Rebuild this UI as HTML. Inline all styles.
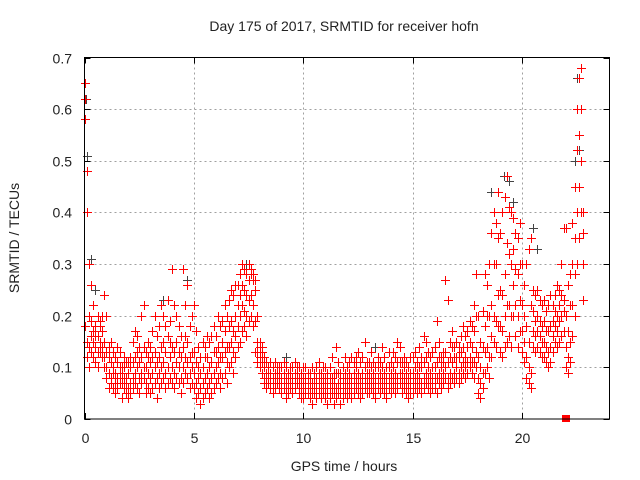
<!DOCTYPE html>
<html><head><meta charset="utf-8"><style>
html,body{margin:0;padding:0;background:#fff;}
svg{display:block;font-family:"Liberation Sans",sans-serif;}
</style></head><body>
<svg id="chart" width="640" height="480" viewBox="0 0 640 480" xmlns="http://www.w3.org/2000/svg">
<rect width="640" height="480" fill="#fff"/>
<text x="344" y="31" font-size="14" text-anchor="middle" fill="#222">Day 175 of 2017, SRMTID for receiver hofn</text>
<text transform="translate(19,238) rotate(-90)" font-size="14" text-anchor="middle" fill="#222">SRMTID / TECUs</text>
<text x="344" y="471" font-size="14" text-anchor="middle" fill="#222">GPS time / hours</text>
<g id="grid"></g>
<g id="ticks"></g>
<g id="gray" fill="#444" shape-rendering="crispEdges"></g>
<g id="red" fill="#ff0000" shape-rendering="crispEdges"></g>
<rect x="84.5" y="57.5" width="525" height="361.5" fill="none" stroke="#000" stroke-width="1"/>
</svg>
<script>
const xTicks=[0,5,10,15,20];
const yTicks=[0,0.1,0.2,0.3,0.4,0.5,0.6,0.7];
const yTickLabels=["0","0.1","0.2","0.3","0.4","0.5","0.6","0.7"];
const tStart=0, tStep=0.1;
const v1=[.18,.12,.1,.13,.12,.11,.1,.13,.12,.1,
.08,.06,.07,.06,.05,.06,.07,.04,.06,.05,
.04,.05,.06,.07,.06,.05,.07,.08,.05,.06,
.05,.06,.07,.04,.06,.07,.08,.06,.07,.08,
.07,.06,.08,.07,.05,.07,.09,.08,.06,.07,
.06,.04,.05,.03,.04,.05,.06,.04,.05,.06,
.07,.08,.06,.08,.09,.07,.1,.11,.09,.12,
.14,.15,.17,.18,.16,.19,.2,.18,.13,.11,
.1,.09,.07,.06,.07,.06,.05,.06,.07,.06,
.05,.06,.04,.05,.06,.05,.06,.07,.05,.04,
.04,.05,.05,.04,.03,.05,.04,.05,.04,.05,
.04,.03,.04,.05,.03,.04,.05,.03,.04,.05,
.04,.05,.04,.05,.06,.05,.04,.05,.06,.05,
.05,.06,.05,.04,.06,.05,.06,.05,.04,.06,
.05,.06,.05,.06,.07,.05,.06,.05,.04,.05,
.05,.06,.05,.06,.05,.06,.07,.06,.05,.06,
.06,.05,.07,.06,.07,.08,.06,.07,.08,.07,
.08,.07,.08,.09,.08,.09,.1,.09,.08,.1,
.05,.04,.06,.09,.1,.08,.12,.15,.14,.18,
.13,.12,.14,.15,.16,.14,.2,.16,.14,.17,
.13,.11,.08,.07,.06,.14,.13,.14,.13,.12,
.12,.11,.1,.11,.13,.15,.14,.15,.16,.17,
.1,.09,.11,.16,.2,.3,.35,.4,.23];
const v2=[.65,.15,.14,.16,.15,.14,.13,.15,.14,.12,
.1,.09,.08,.09,.07,.08,.09,.07,.08,.06,
.06,.07,.08,.09,.1,.08,.09,.1,.07,.09,
.08,.09,.1,.08,.09,.1,.11,.09,.1,.12,
.1,.09,.11,.1,.08,.1,.12,.11,.09,.1,
.09,.07,.08,.06,.07,.08,.09,.07,.08,.09,
.1,.11,.09,.12,.13,.11,.14,.15,.13,.16,
.18,.2,.22,.21,.2,.23,.24,.22,.19,.13,
.12,.11,.08,.08,.08,.07,.07,.08,.08,.07,
.07,.07,.06,.07,.07,.06,.08,.08,.07,.06,
.06,.07,.06,.06,.05,.06,.06,.07,.06,.06,
.06,.05,.06,.06,.05,.06,.07,.05,.06,.07,
.06,.07,.06,.07,.08,.07,.06,.07,.08,.07,
.07,.08,.07,.06,.08,.07,.08,.07,.06,.08,
.07,.08,.07,.08,.09,.07,.08,.07,.06,.07,
.07,.08,.07,.08,.07,.08,.09,.08,.07,.08,
.08,.08,.09,.08,.09,.1,.08,.09,.11,.09,
.1,.09,.1,.11,.1,.11,.12,.11,.11,.13,
.08,.07,.09,.13,.14,.12,.16,.2,.19,.24,
.18,.17,.2,.22,.22,.2,.26,.22,.2,.23,
.17,.15,.12,.1,.09,.17,.16,.17,.16,.15,
.15,.14,.13,.14,.16,.18,.17,.19,.2,.21,
.14,.12,.15,.22,.28,.4,.45,.5,.3];
const v3=[.62,.48,.2,.19,.17,.18,.16,.18,.17,.15,
.13,.12,.11,.1,.09,.11,.1,.09,.1,.08,
.09,.1,.11,.12,.13,.11,.12,.14,.1,.12,
.11,.12,.13,.11,.12,.14,.15,.13,.16,.15,
.14,.13,.15,.13,.12,.14,.16,.15,.12,.13,
.13,.11,.1,.09,.1,.12,.12,.1,.11,.13,
.13,.14,.12,.15,.17,.14,.18,.19,.17,.2,
.22,.24,.26,.25,.24,.27,.28,.27,.25,.15,
.14,.13,.1,.09,.09,.09,.08,.09,.09,.09,
.08,.09,.08,.08,.09,.08,.09,.09,.08,.08,
.08,.08,.08,.07,.07,.08,.08,.09,.07,.08,
.08,.07,.08,.08,.07,.09,.09,.07,.08,.09,
.08,.09,.08,.09,.1,.09,.08,.09,.1,.09,
.09,.1,.09,.08,.1,.09,.1,.09,.08,.1,
.09,.1,.09,.11,.11,.09,.1,.09,.08,.09,
.09,.1,.09,.1,.1,.11,.12,.1,.09,.1,
.1,.11,.12,.1,.11,.13,.11,.12,.14,.12,
.12,.12,.13,.14,.12,.14,.15,.14,.17,.2,
.12,.1,.14,.18,.2,.2,.22,.3,.3,.35,
.25,.24,.28,.34,.32,.3,.33,.29,.28,.3,
.22,.2,.18,.15,.22,.21,.19,.2,.19,.18,
.19,.17,.17,.18,.19,.21,.2,.22,.24,.23,
.2,.17,.22,.3,.35,.52,.55,.6,.4];
const v4=[.58,.4,.3,.26,.22,.16,.2,.19,.2,.24,
.2,.14,.15,.13,.12,.14,.13,.1,.12,.11,
.11,.12,.15,.17,.16,.14,.2,.22,.13,.15,
.14,.17,.2,.16,.18,.22,.2,.18,.23,.19,
.29,.22,.2,.18,.16,.29,.22,.26,.18,.2,
.22,.17,.14,.12,.15,.14,.16,.15,.16,.18,
.16,.2,.18,.19,.22,.2,.23,.25,.24,.26,
.26,.28,.3,.29,.28,.3,.29,.28,.27,.2,
.15,.14,.12,.11,.1,.11,.1,.11,.1,.1,
.1,.11,.1,.09,.1,.1,.11,.1,.1,.09,
.1,.1,.09,.09,.1,.09,.1,.11,.09,.1,
.1,.09,.1,.12,.09,.14,.11,.09,.1,.12,
.1,.11,.12,.11,.12,.13,.11,.12,.15,.11,
.11,.13,.11,.1,.12,.11,.14,.12,.1,.13,
.11,.13,.12,.15,.14,.11,.12,.11,.1,.12,
.12,.13,.11,.14,.12,.16,.15,.13,.12,.13,
.14,.19,.15,.12,.13,.27,.23,.15,.17,.14,
.15,.14,.16,.18,.16,.17,.19,.18,.22,.28,
.2,.15,.21,.28,.26,.3,.36,.4,.38,.44,
.36,.4,.43,.47,.41,.4,.39,.36,.35,.38,
.3,.26,.3,.33,.35,.25,.24,.25,.23,.22,
.23,.21,.22,.24,.22,.24,.26,.25,.3,.37,
.37,.26,.28,.38,.45,.6,.66,.68,.36];
const grayTimes=[0.05,0.1,0.3,0.5,3.6,4.7,7.4,7.6,9.2,11.5,13.3,18.6,19.2,19.4,19.6,20.5,20.7,22.4,22.5,22.6];
const grayValues=[0.62,0.51,0.31,0.25,0.23,0.27,0.3,0.29,0.12,0.14,0.14,0.44,0.47,0.46,0.42,0.37,0.33,0.5,0.66,0.52];
const markerTime=[22];
const markerValue=[0];

const X0=84.5,X1=609.5,Y0=419,Y1=57.5;
const xs=t=>X0+(t-0)/(24-0)*(X1-X0);
const ys=v=>Y0-(v-0)/(0.7-0)*(Y0-Y1);
const NS="http://www.w3.org/2000/svg";
function mk(tag,parent){const e=document.createElementNS(NS,tag);parent.appendChild(e);return e;}
const grid=document.getElementById('grid'),ticks=document.getElementById('ticks');
yTicks.forEach((v,i)=>{
  const y=Math.round(ys(v))+0.5;
  if(i>0&&i<yTicks.length-1){const g=mk('line',grid);
    
    
    g.setAttribute('x1',X0);g.setAttribute('x2',X1);g.setAttribute('y1',y);g.setAttribute('y2',y);
    g.setAttribute('stroke','#a0a0a0');g.setAttribute('stroke-dasharray','2,3');}
  const tk=mk('path',ticks);
  
  
  tk.setAttribute('d',`M${X0},${y}h6M${X1},${y}h-6`);tk.setAttribute('stroke','#000');
  const tl=mk('text',ticks);
  
  
  tl.setAttribute('x',72);tl.setAttribute('y',y+5);tl.setAttribute('text-anchor','end');tl.setAttribute('font-size','14');tl.setAttribute('fill','#222');
  tl.textContent=yTickLabels[i];
});
xTicks.forEach(t=>{
  const x=Math.round(xs(t))+0.5;
  if(t>0){const g=mk('line',grid);
    
    
    g.setAttribute('x1',x);g.setAttribute('x2',x);g.setAttribute('y1',Y1);g.setAttribute('y2',Y0);
    g.setAttribute('stroke','#a0a0a0');g.setAttribute('stroke-dasharray','2,3');}
  const tk=mk('path',ticks);
  
  
  tk.setAttribute('d',`M${x},${Y0}v-6M${x},${Y1}v6`);tk.setAttribute('stroke','#000');
  const tl=mk('text',ticks);
  
  
  tl.setAttribute('x',x);tl.setAttribute('y',443);tl.setAttribute('text-anchor','middle');tl.setAttribute('font-size','14');tl.setAttribute('fill','#222');
  tl.textContent=String(t);
});
// plus marker as filled rectangles path (crisp, solid colour)
function plus(t,v){const x=Math.round(xs(t)),y=Math.round(ys(v));
  return `M${x-4},${y}h9v1h-9zM${x},${y-4}h1v9h-1z`;}
let gd='';grayTimes.forEach((t,i)=>{gd+=plus(t,grayValues[i]);});
const gp=mk('path',document.getElementById('gray'));


gp.setAttribute('d',gd);gp.setAttribute('fill','#444');gp.setAttribute('fill-rule','nonzero');
const redG=document.getElementById('red');
[v1,v2,v3,v4].forEach(arr=>{
  let rd='';
  arr.forEach((v,i)=>{rd+=plus(tStart+i*tStep,v);});
  const rp=mk('path',redG);
  
  
  rp.setAttribute('d',rd);rp.setAttribute('fill','#ff0000');rp.setAttribute('fill-rule','nonzero');
});
markerTime.forEach((t,i)=>{const r=mk('rect',redG);
  
  
  r.setAttribute('x',Math.round(xs(t))-4);r.setAttribute('y',Math.round(ys(markerValue[i]))-4);r.setAttribute('width',8);r.setAttribute('height',7);r.setAttribute('fill','#ff0000');});
</script>
</body></html>
